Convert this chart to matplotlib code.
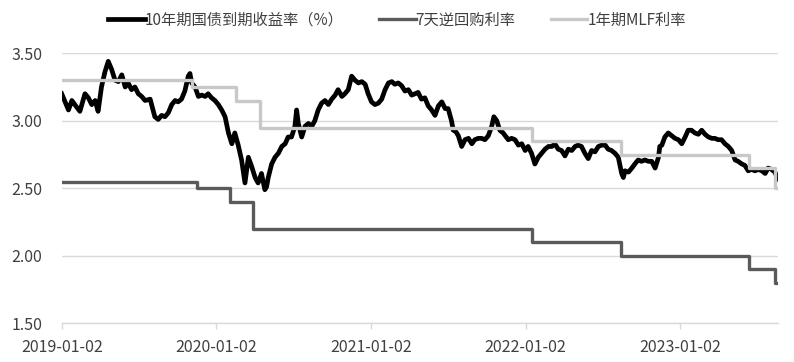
import matplotlib
matplotlib.use("Agg")
import matplotlib.pyplot as plt
import pandas as pd

plt.rcParams['font.family'] = ['Noto Sans CJK SC', 'DejaVu Sans']

# ---- data ----
y10_dates = [
    "2019-01-02","2019-01-10","2019-01-18","2019-01-26","2019-02-02","2019-02-14","2019-02-26","2019-03-06",
    "2019-03-14","2019-03-22","2019-03-29","2019-04-06","2019-04-14","2019-04-22","2019-04-30","2019-05-08",
    "2019-05-16","2019-05-24","2019-06-01","2019-06-08","2019-06-16","2019-06-24","2019-07-02","2019-07-10",
    "2019-07-18","2019-07-30","2019-08-10","2019-08-18","2019-08-26","2019-09-03","2019-09-11","2019-09-19",
    "2019-09-27","2019-10-04","2019-10-12","2019-10-20","2019-10-28","2019-11-01","2019-11-05","2019-11-13",
    "2019-11-21","2019-11-29","2019-12-07","2019-12-14","2019-12-22","2019-12-30","2020-01-07","2020-01-15",
    "2020-01-23","2020-01-31","2020-02-08","2020-02-15","2020-02-23","2020-03-02","2020-03-10","2020-03-18",
    "2020-03-26","2020-04-03","2020-04-10","2020-04-18","2020-04-26","2020-04-30","2020-05-04","2020-05-12",
    "2020-05-20","2020-05-28","2020-06-05","2020-06-13","2020-06-20","2020-06-28","2020-07-06","2020-07-10",
    "2020-07-14","2020-07-22","2020-07-30","2020-08-07","2020-08-15","2020-08-22","2020-08-30","2020-09-07",
    "2020-09-15","2020-09-23","2020-10-01","2020-10-09","2020-10-16","2020-10-25","2020-11-01","2020-11-09",
    "2020-11-17","2020-11-25","2020-12-03","2020-12-11","2020-12-19","2020-12-26","2021-01-03","2021-01-11",
    "2021-01-19","2021-01-27","2021-02-04","2021-02-12","2021-02-20","2021-02-27","2021-03-07","2021-03-15",
    "2021-03-23","2021-03-31","2021-04-08","2021-04-16","2021-04-23","2021-05-01","2021-05-09","2021-05-17",
    "2021-05-25","2021-06-02","2021-06-10","2021-06-18","2021-06-26","2021-07-03","2021-07-11","2021-07-15",
    "2021-07-19","2021-07-27","2021-08-04","2021-08-12","2021-08-20","2021-08-28","2021-09-04","2021-09-12",
    "2021-09-20","2021-09-28","2021-10-06","2021-10-14","2021-10-19","2021-10-26","2021-11-02","2021-11-10",
    "2021-11-22","2021-11-30","2021-12-08","2021-12-16","2021-12-24","2022-01-01","2022-01-08","2022-01-16",
    "2022-01-24","2022-02-01","2022-02-09","2022-02-17","2022-02-25","2022-03-05","2022-03-12","2022-03-20",
    "2022-03-28","2022-04-05","2022-04-13","2022-04-21","2022-04-29","2022-05-06","2022-05-14","2022-05-22",
    "2022-05-30","2022-06-07","2022-06-15","2022-06-23","2022-07-01","2022-07-09","2022-07-16","2022-07-24",
    "2022-08-01","2022-08-09","2022-08-17","2022-08-21","2022-08-25","2022-09-02","2022-09-10","2022-09-17",
    "2022-09-25","2022-10-03","2022-10-11","2022-10-19","2022-10-27","2022-11-04","2022-11-12","2022-11-15",
    "2022-11-20","2022-11-27","2022-12-05","2022-12-13","2022-12-21","2022-12-29","2023-01-06","2023-01-14",
    "2023-01-21","2023-01-29","2023-02-06","2023-02-14","2023-02-22","2023-03-02","2023-03-10","2023-03-18",
    "2023-03-25","2023-04-02","2023-04-10","2023-04-18","2023-04-26","2023-05-04","2023-05-12","2023-05-19",
    "2023-05-28","2023-06-04","2023-06-12","2023-06-20","2023-06-28","2023-07-06","2023-07-14","2023-07-22",
    "2023-07-29","2023-08-06","2023-08-14","2023-08-21",
]
y10_values = [
    3.20,3.14,3.08,3.15,3.12,3.07,3.20,3.17,
    3.12,3.15,3.07,3.25,3.36,3.44,3.38,3.30,
    3.29,3.34,3.25,3.28,3.23,3.25,3.20,3.18,
    3.15,3.16,3.03,3.01,3.04,3.03,3.06,3.12,
    3.15,3.14,3.16,3.22,3.33,3.35,3.28,3.25,
    3.18,3.19,3.18,3.20,3.17,3.15,3.12,3.08,
    3.03,2.91,2.83,2.91,2.82,2.71,2.54,2.73,
    2.66,2.58,2.54,2.61,2.49,2.51,2.58,2.68,
    2.73,2.76,2.81,2.83,2.88,2.88,2.96,3.08,
    2.98,2.88,2.96,2.98,2.96,3.00,3.08,3.13,
    3.15,3.12,3.16,3.19,3.23,3.18,3.20,3.23,
    3.33,3.30,3.28,3.29,3.27,3.20,3.14,3.12,
    3.13,3.16,3.23,3.28,3.29,3.27,3.28,3.26,
    3.22,3.23,3.19,3.20,3.21,3.16,3.17,3.11,
    3.08,3.04,3.11,3.14,3.09,3.09,3.00,2.93,
    2.93,2.89,2.81,2.86,2.87,2.83,2.86,2.87,
    2.87,2.86,2.89,2.96,3.03,3.00,2.93,2.91,
    2.86,2.87,2.86,2.82,2.83,2.78,2.81,2.76,
    2.68,2.73,2.76,2.79,2.81,2.81,2.83,2.79,
    2.78,2.74,2.79,2.78,2.81,2.82,2.81,2.76,
    2.72,2.78,2.77,2.81,2.82,2.82,2.79,2.78,
    2.76,2.73,2.61,2.58,2.63,2.62,2.65,2.68,
    2.71,2.70,2.71,2.70,2.70,2.65,2.73,2.81,
    2.82,2.88,2.91,2.89,2.87,2.86,2.83,2.88,
    2.93,2.93,2.91,2.90,2.93,2.90,2.88,2.87,
    2.87,2.86,2.86,2.83,2.81,2.78,2.71,2.70,
    2.68,2.67,2.63,2.64,2.63,2.64,2.63,2.61,
    2.65,2.64,2.62,2.57,
]

repo_dates = ["2019-01-02","2019-11-18","2020-02-03","2020-03-30","2022-01-17",
              "2022-08-15","2023-06-13","2023-08-15","2023-08-21"]
repo_values = [2.55, 2.50, 2.40, 2.20, 2.10, 2.00, 1.90, 1.80, 1.80]

mlf_dates = ["2019-01-02","2019-11-05","2020-02-17","2020-04-15","2022-01-17",
             "2022-08-15","2023-06-13","2023-08-15","2023-08-21"]
mlf_values = [3.30, 3.25, 3.15, 2.95, 2.85, 2.75, 2.65, 2.50, 2.50]

tick_dates = ["2019-01-02","2020-01-02","2021-01-02","2022-01-02","2023-01-02"]
y_ticks = [1.50, 2.00, 2.50, 3.00, 3.50]
labels = ["10年期国债到期收益率（%）", "7天逆回购利率", "1年期MLF利率"]

# ---- plot ----
fig = plt.figure(figsize=(7.94, 3.62), dpi=100)
ax = fig.add_axes([0.0777, 0.1064, 0.9025, 0.7466])

grid_c = "#d9d9d9"
txt_c = "#404040"

l1, = ax.plot(pd.to_datetime(y10_dates), y10_values, color="#000000", lw=3.4,
              solid_joinstyle="round", zorder=3)
l2, = ax.plot(pd.to_datetime(repo_dates), repo_values, color="#5a5a5a", lw=2.4,
              drawstyle="steps-post", zorder=3)
l3, = ax.plot(pd.to_datetime(mlf_dates), mlf_values, color="#c8c8c8", lw=2.4,
              drawstyle="steps-post", zorder=4)

ax.set_ylim(1.5, 3.5)
ax.set_xlim(pd.Timestamp("2019-01-02"), pd.Timestamp("2023-08-22"))
ax.set_yticks(y_ticks)
ax.set_yticklabels([f"{v:.2f}" for v in y_ticks])
ax.set_xticks(pd.to_datetime(tick_dates))
ax.set_xticklabels(tick_dates)

ax.yaxis.grid(True, color=grid_c, lw=1.0)
ax.set_axisbelow(True)
for s in ["top", "right", "left"]:
    ax.spines[s].set_visible(False)
ax.spines["bottom"].set_color(grid_c)
ax.spines["bottom"].set_linewidth(1.0)
ax.tick_params(axis="y", length=0, pad=14, labelsize=11.5, labelcolor=txt_c)
ax.tick_params(axis="x", length=4, width=1.0, color=grid_c, pad=7,
               labelsize=11.5, labelcolor=txt_c)

fig.legend([l1, l2, l3], labels, loc="center", bbox_to_anchor=(0.5, 0.945),
           ncol=3, frameon=False, fontsize=11, handlelength=2.4,
           handletextpad=0.0, columnspacing=2.3, labelcolor=txt_c)

fig.savefig("out.png", dpi=100)
